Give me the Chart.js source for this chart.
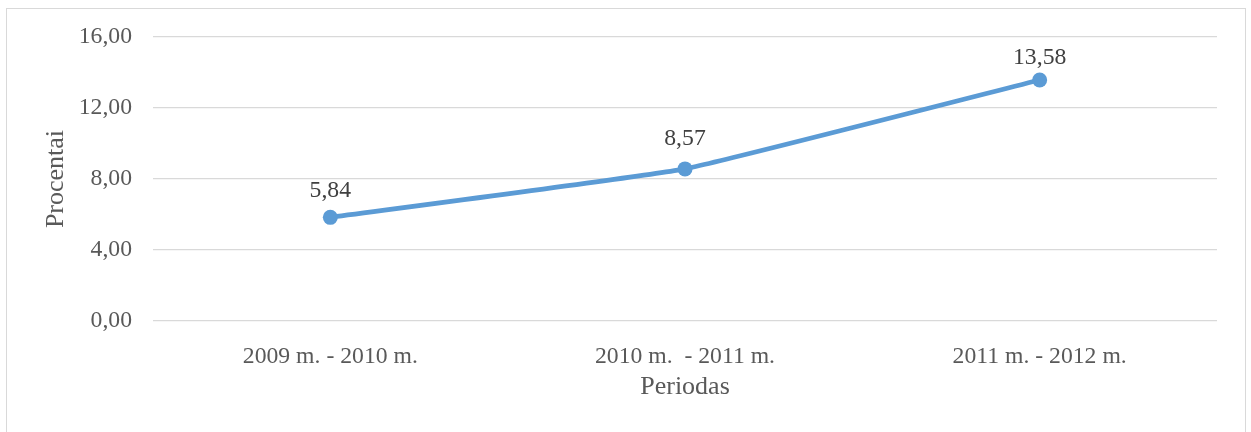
<!DOCTYPE html>
<html>
<head>
<meta charset="utf-8">
<script src="https://cdn.jsdelivr.net/npm/chart.js@4.4.0/dist/chart.umd.min.js"></script>
<style>
  html, body { margin: 0; padding: 0; background: #ffffff; overflow: hidden; }
  #frame {
    position: absolute; left: 6px; top: 8px; width: 1240px; height: 460px;
    border: 1px solid #d9d9d9; box-sizing: border-box;
  }
  #growthChart { position: absolute; left: 0; top: 0; }
</style>
</head>
<body>
<div id="frame"></div>
<canvas id="growthChart" width="1251" height="432"></canvas>
<script>
// Duomenys
const periodai = ['2009 m. - 2010 m.', '2010 m.  - 2011 m.', '2011 m. - 2012 m.'];
const procentai = [5.84, 8.57, 13.58];
const yTicks = [0, 4, 8, 12, 16];

const SERIF = "'Liberation Serif', 'Times New Roman', serif";
const MELYNA = '#5B9BD5';
// kiek pikseliu virs tasko rasoma etikete
const etikeciuPoslinkis = [27, 30, 22];

// skaicius su kableliu: 5.84 -> "5,84"
const kablelis = (v) => Number(v).toFixed(2).replace('.', ',');

// reiksmiu etiketes virs tasku
const etiketes = {
    id: 'etiketes',
    afterDatasetsDraw(chart) {
        const ctx = chart.ctx;
        const meta = chart.getDatasetMeta(0);
        ctx.save();
        ctx.font = '23.7px ' + SERIF;
        ctx.fillStyle = '#404040';
        ctx.textAlign = 'center';
        ctx.textBaseline = 'middle';
        meta.data.forEach((pt, i) => {
            const dy = etikeciuPoslinkis[i] || 27;
            ctx.fillText(kablelis(chart.data.datasets[0].data[i]), pt.x, pt.y - dy);
        });
        ctx.restore();
    }
};

const ctx = document.getElementById('growthChart').getContext('2d');

new Chart(ctx, {
    type: 'line',
    data: {
        labels: periodai,
        datasets: [{
            data: procentai,
            borderColor: MELYNA,
            backgroundColor: MELYNA,
            borderWidth: 4.8,
            pointRadius: 7.5,
            pointBackgroundColor: MELYNA,
            pointBorderColor: MELYNA,
            pointBorderWidth: 0,
            tension: 0.1,
            fill: false
        }]
    },
    options: {
        responsive: false,
        animation: false,
        layout: { padding: { left: 0, right: 34, top: 37, bottom: 0 } },
        plugins: {
            legend: { display: false },
            tooltip: { enabled: false }
        },
        scales: {
            x: {
                offset: true,
                grid: { display: false },
                border: { display: false },
                ticks: {
                    color: '#595959',
                    font: { family: SERIF, size: 23.7 },
                    padding: 14,
                    maxRotation: 0
                },
                title: {
                    display: true,
                    text: 'Periodas',
                    color: '#595959',
                    font: { family: SERIF, size: 26 },
                    padding: { top: 0, bottom: 29 }
                },
                afterFit(scale) { scale.height = 111; }
            },
            y: {
                min: 0,
                max: 16,
                afterBuildTicks(scale) { scale.ticks = yTicks.map(v => ({ value: v })); },
                grid: { color: '#d9d9d9', lineWidth: 1.3, drawTicks: false },
                border: { display: false },
                ticks: {
                    color: '#595959',
                    font: { family: SERIF, size: 23.7 },
                    padding: 21,
                    callback: (v) => kablelis(v)
                },
                title: {
                    display: true,
                    text: 'Procentai',
                    color: '#595959',
                    font: { family: SERIF, size: 26 },
                    padding: { top: 41, bottom: 0 }
                },
                afterFit(scale) { scale.width = 153; }
            }
        }
    },
    plugins: [etiketes]
});
</script>
</body>
</html>
